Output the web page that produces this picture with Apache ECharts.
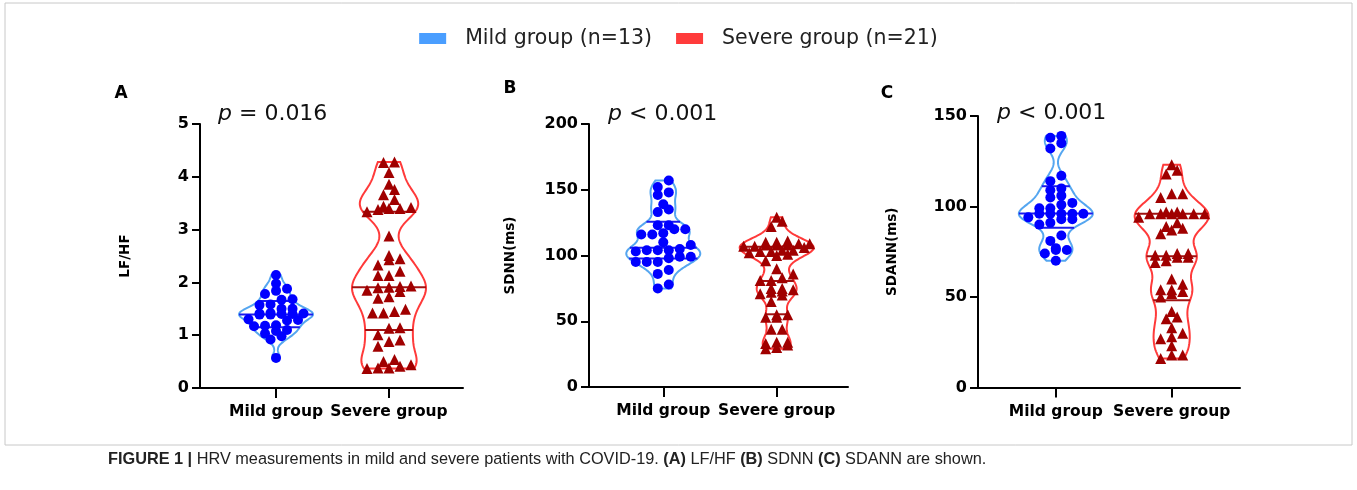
<!DOCTYPE html>
<html>
<head>
<meta charset="utf-8">
<script src="https://cdn.jsdelivr.net/npm/echarts@6/dist/echarts.min.js"></script>
<style>html,body{margin:0;padding:0;background:#fff}#c{width:1357px;height:490px}</style>
</head>
<body>
<div id="c"></div>
<script>
// ---------------- data ----------------
const categories = ['Mild group', 'Severe group'];
const groupNames = ['Mild group (n=13)', 'Severe group (n=21)'];
const panelLetters = ['A', 'B', 'C'];
const yTitles = ['LF/HF', 'SDNN(ms)', 'SDANN(ms)'];
const pTexts = ['= 0.016', '< 0.001', '< 0.001'];
const yMaxes = [5, 200, 150];
const yIntervals = [1, 50, 50];

const lfhfMild = [2.14, 1.98, 1.88, 1.84, 1.78, 1.68, 1.67, 1.58, 1.57, 1.50, 1.50, 1.42, 1.41, 1.41, 1.40, 1.40, 1.39, 1.39, 1.30, 1.29, 1.28, 1.19, 1.18, 1.17, 1.10, 1.08, 1.03, 0.98, 0.92, 0.57];
const lfhfSevere = [4.28, 4.27, 4.08, 3.86, 3.76, 3.66, 3.57, 3.44, 3.42, 3.40, 3.40, 3.38, 3.34, 2.88, 2.51, 2.45, 2.43, 2.33, 2.21, 2.13, 2.13, 1.93, 1.92, 1.91, 1.90, 1.85, 1.83, 1.73, 1.70, 1.49, 1.45, 1.42, 1.42, 1.14, 1.13, 1.01, 0.91, 0.88, 0.79, 0.54, 0.50, 0.44, 0.41, 0.38, 0.38, 0.37];
const sdnnMild = [157, 152, 148, 146, 139, 135, 133, 123, 123, 120, 120, 117, 116, 116, 110, 108, 105, 104, 104, 104, 103, 99, 99, 98, 95, 95, 95, 89, 86, 78, 75];
const sdnnSevere = [129, 126, 122, 111, 110, 110, 109, 109, 108, 108, 108, 107, 107, 106, 104, 104, 103, 103, 102, 101, 100, 96, 90, 86, 83, 81, 81, 75, 75, 74, 73, 72, 71, 70, 65, 55, 55, 53, 53, 44, 44, 34, 34, 33, 32, 30, 29];
const sdannMild = [139, 138, 135, 132, 117, 114, 110, 109, 106, 105, 102, 101, 99, 99, 96, 96, 96, 96, 96, 94, 93, 93, 91, 90, 84, 81, 77, 76, 76, 74, 70];
const sdannSevere = [123, 120, 118, 107, 107, 105, 97, 97, 96, 96, 96, 96, 96, 96, 94, 91, 89, 88, 87, 85, 74, 74, 73, 73, 72, 72, 70, 69, 60, 57, 54, 54, 53, 52, 50, 42, 39, 38, 33, 30, 28, 27, 23, 18, 18, 16];

// quartiles [Q1, median, Q3] as drawn
const lfhfQuartMild = [1.15, 1.39, 1.65];
const lfhfQuartSevere = [1.10, 1.91, 3.34];
const sdnnQuartMild = [97.7, 105.8, 125.6];
const sdnnQuartSevere = [55.3, 80.7, 106.6];
const sdannQuartMild = [88.2, 96.1, 111.2];
const sdannQuartSevere = [48.2, 72.5, 96.0];

// ---------------- layout & style ----------------
const GRIDS = [
  { left: 200, top: 124, width: 263, height: 264, xMin: 0.327, xMax: 2.655, nameGap: 68 },
  { left: 589, top: 124, width: 259, height: 263, xMin: 0.345, xMax: 2.629, nameGap: 72 },
  { left: 978, top: 116, width: 262, height: 271.5, xMin: 0.328, xMax: 2.59, nameGap: 79 }
];
const LETTER_POS = [[121, 94], [510, 89], [887, 94]];
const P_POS = [[218, 114], [608, 114], [997, 113]];
const LEGEND_COLORS = ['#4a9eff', '#ff3b3b'];
const OUTLINE = ['#55a6f0', '#ff3a3a'];
const QLINE = ['#1a1aee', '#a01010'];
const DOT = ['#0000ff', '#a00000'];
const SYMBOL = ['circle', 'triangle'];
const SYMBOL_SIZE = [10, 11];
const VIOLIN_HALF_PX = 37;
const FONT = 'DejaVu Sans';

const panels = [
  { vals: [lfhfMild, lfhfSevere], q: [lfhfQuartMild, lfhfQuartSevere] },
  { vals: [sdnnMild, sdnnSevere], q: [sdnnQuartMild, sdnnQuartSevere] },
  { vals: [sdannMild, sdannSevere], q: [sdannQuartMild, sdannQuartSevere] }
];

// kernel density profile, truncated at data min / max (Prism style)
function violinProfile(vals) {
  const mn = Math.min(...vals), mx = Math.max(...vals);
  const h = 0.065 * (mx - mn);
  const dens = y => vals.reduce((s, v) => { const d = (y - v) / h; return s + Math.exp(-0.5 * d * d); }, 0);
  const N = 160, ys = [], ds = [];
  for (let k = 0; k <= N; k++) { const y = mn + (mx - mn) * k / N; ys.push(y); ds.push(dens(y)); }
  const m = Math.max(...ds);
  return { ys, w: ds.map(d => d / m), at: y => dens(Math.min(mx, Math.max(mn, y))) / m };
}

// row-binned dot layout (like Prism's scatter), rows limited to the violin width
function swarm(vals, gi, g, yMax, prof) {
  const pxPerY = g.height / yMax;
  const pxPerX = g.width / (g.xMax - g.xMin);
  const binPx = 7, stepPx = 11;
  const s = vals.slice().sort((a, b) => a - b);
  const out = [];
  let i = 0;
  while (i < s.length) {
    const maxN = Math.max(1, Math.min(7, Math.floor(2 * prof.at(s[i]) * VIOLIN_HALF_PX / stepPx) + 1));
    let j = i;
    while (j + 1 < s.length && j - i + 1 < maxN && (s[j + 1] - s[i]) * pxPerY < binPx) j++;
    const n = j - i + 1;
    for (let k = 0; k < n; k++) out.push([gi + (k - (n - 1) / 2) * stepPx / pxPerX, s[i + k]]);
    i = j + 1;
  }
  return out;
}

const option = {
  animation: false,
  backgroundColor: '#fff',
  grid: [], xAxis: [], yAxis: [], series: [],
  legend: {
    top: 23, left: 'center', icon: 'rect', itemWidth: 27, itemHeight: 11, itemGap: 24,
    selectedMode: false,
    data: groupNames.map((n, k) => ({ name: n, itemStyle: { color: LEGEND_COLORS[k] } })),
    textStyle: { fontFamily: FONT, fontSize: 20.5, color: '#222', padding: [0, 0, 0, 14] }
  },
  graphic: []
};

panels.forEach((p, i) => {
  const g = GRIDS[i];
  option.grid.push({ left: g.left, top: g.top, width: g.width, height: g.height });
  option.xAxis.push({
    type: 'value', gridIndex: i, min: g.xMin, max: g.xMax,
    axisLine: { show: true, onZero: false, lineStyle: { color: '#000', width: 2 } },
    axisTick: { show: true, customValues: [1, 2], length: 10, lineStyle: { color: '#000', width: 2 } },
    axisLabel: {
      customValues: [1, 2], margin: 16,
      formatter: v => categories[Math.round(v) - 1] || '',
      fontFamily: FONT, fontWeight: 'bold', fontSize: 15.5, color: '#000'
    },
    splitLine: { show: false }
  });
  option.yAxis.push({
    type: 'value', gridIndex: i, min: 0, max: yMaxes[i], interval: yIntervals[i],
    name: yTitles[i], nameLocation: 'middle', nameGap: g.nameGap,
    nameTextStyle: { fontFamily: FONT, fontWeight: 'bold', fontSize: 13.5, color: '#000' },
    axisLine: { show: true, onZero: false, lineStyle: { color: '#000', width: 2 } },
    axisTick: { show: true, length: 8, lineStyle: { color: '#000', width: 2 } },
    axisLabel: { fontFamily: FONT, fontWeight: 'bold', fontSize: 16, color: '#000', margin: 11 },
    splitLine: { show: false }
  });
  const pxPerX = g.width / (g.xMax - g.xMin);
  const halfMax = VIOLIN_HALF_PX / pxPerX;
  [0, 1].forEach(k => {
    const gi = k + 1;
    const vals = p.vals[k], q = p.q[k];
    const prof = violinProfile(vals);
    option.series.push({
      type: 'custom', name: groupNames[k], xAxisIndex: i, yAxisIndex: i, z: 2, silent: true,
      itemStyle: { color: LEGEND_COLORS[k] },
      data: [[gi, q[1]]],
      renderItem: (params, api) => {
        const right = [], left = [];
        prof.ys.forEach((y, m) => {
          const w = prof.w[m] * halfMax;
          right.push(api.coord([gi + w, y]));
          left.push(api.coord([gi - w, y]));
        });
        const children = [{
          type: 'polygon', shape: { points: right.concat(left.reverse()) },
          style: { fill: 'none', stroke: OUTLINE[k], lineWidth: 2 }
        }];
        q.forEach(v => {
          const w = prof.at(v) * halfMax;
          const a = api.coord([gi - w, v]), b = api.coord([gi + w, v]);
          children.push({ type: 'line', shape: { x1: a[0], y1: a[1], x2: b[0], y2: b[1] }, style: { stroke: QLINE[k], lineWidth: 2 } });
        });
        return { type: 'group', children };
      }
    });
    option.series.push({
      type: 'scatter', xAxisIndex: i, yAxisIndex: i, z: 3, silent: true,
      symbol: SYMBOL[k], symbolSize: SYMBOL_SIZE[k],
      itemStyle: { color: DOT[k], opacity: 1 },
      data: swarm(vals, gi, g, yMaxes[i], prof)
    });
  });
  option.graphic.push({
    type: 'text', x: LETTER_POS[i][0], y: LETTER_POS[i][1],
    style: { text: panelLetters[i], fontFamily: FONT, fontWeight: 'bold', fontSize: 17, fill: '#000', align: 'center', verticalAlign: 'middle' }
  });
  option.graphic.push({
    type: 'text', x: P_POS[i][0], y: P_POS[i][1],
    style: {
      text: '{i|p} ' + pTexts[i], fontFamily: FONT, fontSize: 22, fill: '#111', verticalAlign: 'middle',
      rich: { i: { fontFamily: FONT, fontStyle: 'italic', fontSize: 22, fill: '#111' } }
    }
  });
});

option.graphic.push({
  type: 'rect', silent: true, z: -10,
  shape: { x: 5, y: 3, width: 1347, height: 442 },
  style: { fill: 'none', stroke: '#c8c8c8', lineWidth: 1 }
});
option.graphic.push({
  type: 'text', x: 108, y: 460,
  style: {
    text: '{b|FIGURE 1 |} HRV measurements in mild and severe patients with COVID-19. {b|(A)} LF/HF {b|(B)} SDNN {b|(C)} SDANN are shown.',
    fontFamily: 'Liberation Sans', fontSize: 16.3, fill: '#222', verticalAlign: 'middle',
    rich: { b: { fontFamily: 'Liberation Sans', fontWeight: 'bold', fontSize: 16.3, fill: '#222' } }
  }
});

const chart = echarts.init(document.getElementById('c'));
chart.setOption(option);
</script>
</body>
</html>
